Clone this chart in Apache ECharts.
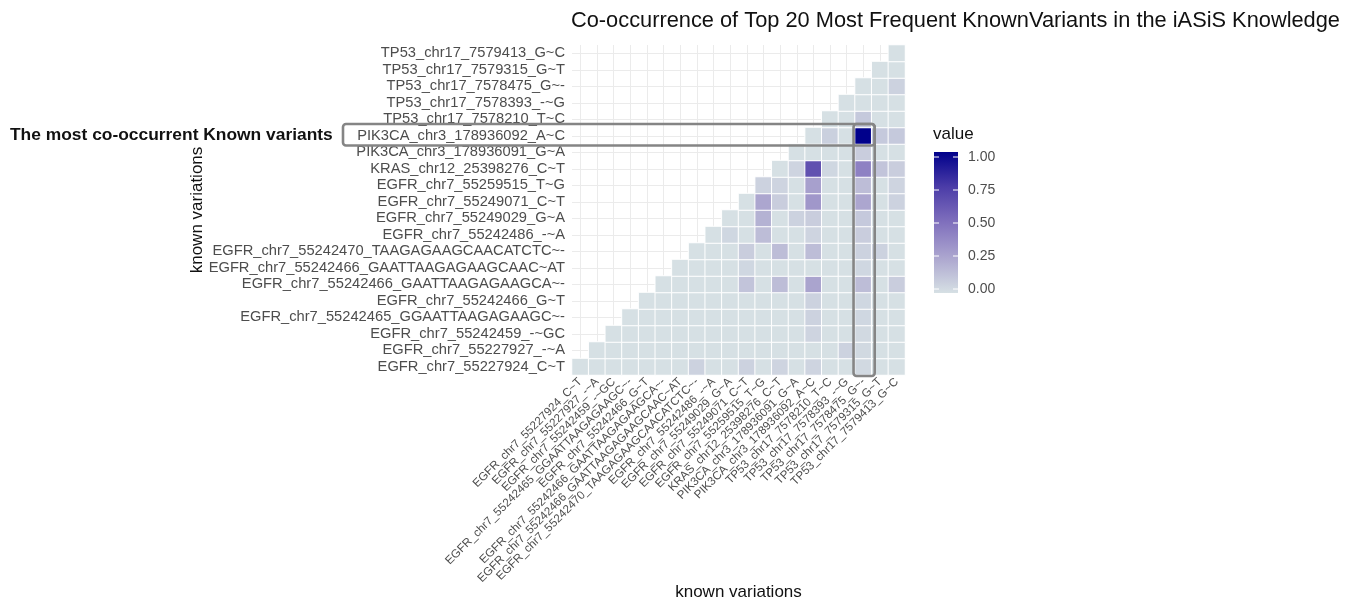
<!DOCTYPE html>
<html>
<head>
<meta charset="utf-8">
<script src="https://cdn.jsdelivr.net/npm/echarts@6/dist/echarts.min.js"></script>
<style>
  html, body { margin: 0; padding: 0; background: #ffffff; }
  #chart { width: 1345px; height: 604px; }
</style>
</head>
<body>
<div id="chart"></div>
<script>
// Variant identifiers, bottom-to-top on y and left-to-right on x
const variants = [
  'EGFR_chr7_55227924_C~T',
  'EGFR_chr7_55227927_-~A',
  'EGFR_chr7_55242459_-~GC',
  'EGFR_chr7_55242465_GGAATTAAGAGAAGC~-',
  'EGFR_chr7_55242466_G~T',
  'EGFR_chr7_55242466_GAATTAAGAGAAGCA~-',
  'EGFR_chr7_55242466_GAATTAAGAGAAGCAAC~AT',
  'EGFR_chr7_55242470_TAAGAGAAGCAACATCTC~-',
  'EGFR_chr7_55242486_-~A',
  'EGFR_chr7_55249029_G~A',
  'EGFR_chr7_55249071_C~T',
  'EGFR_chr7_55259515_T~G',
  'KRAS_chr12_25398276_C~T',
  'PIK3CA_chr3_178936091_G~A',
  'PIK3CA_chr3_178936092_A~C',
  'TP53_chr17_7578210_T~C',
  'TP53_chr17_7578393_-~G',
  'TP53_chr17_7578475_G~-',
  'TP53_chr17_7579315_G~T',
  'TP53_chr17_7579413_G~C'
];

// Row j holds the co-occurrence values for columns j..19 (upper triangle)
const coOccurrence = [
  [0, 0, 0, 0, 0, 0, 0, 0.06, 0, 0, 0.06, 0, 0.05, 0, 0.05, 0, 0, 0.03, 0, 0],
  [0, 0, 0, 0, 0, 0, 0, 0, 0, 0, 0, 0, 0, 0, 0, 0.06, 0.03, 0, 0],
  [0, 0, 0, 0, 0, 0, 0, 0, 0, 0, 0, 0, 0.05, 0, 0, 0.03, 0, 0],
  [0, 0, 0, 0, 0, 0, 0, 0, 0, 0, 0, 0.06, 0, 0, 0.04, 0, 0],
  [0, 0, 0, 0, 0, 0, 0, 0, 0, 0, 0.06, 0, 0, 0.04, 0, 0],
  [0, 0, 0, 0, 0, 0.12, 0, 0.15, 0, 0.26, 0, 0, 0.15, 0, 0.08],
  [0, 0, 0, 0, 0.04, 0, 0, 0, 0, 0, 0, 0.04, 0, 0],
  [0, 0, 0, 0.08, 0, 0.15, 0, 0.15, 0, 0, 0.06, 0.06, 0],
  [0, 0.04, 0, 0.15, 0, 0, 0.05, 0, 0, 0.08, 0, 0],
  [0, 0, 0.2, 0, 0.06, 0.08, 0, 0, 0.1, 0, 0],
  [0, 0.25, 0.08, 0, 0.32, 0, 0, 0.25, 0, 0.06],
  [0.06, 0.05, 0, 0.28, 0, 0, 0.15, 0, 0.05],
  [0, 0.05, 0.65, 0.04, 0, 0.42, 0.12, 0.08],
  [0, 0, 0, 0, 0.08, 0, 0],
  [0, 0.07, 0, 1, 0.1, 0.1],
  [0, 0, 0.1, 0, 0],
  [0, 0, 0, 0],
  [0, 0, 0.06],
  [0, 0],
  [0]
];

// Colour bar breaks
const legendTicks = [0, 0.25, 0.5, 0.75, 1];
const legendTickLabels = ['0.00', '0.25', '0.50', '0.75', '1.00'];

// Highlighted pair: row variant and column variant
const highlightRow = 'PIK3CA_chr3_178936092_A~C';
const highlightCol = 'TP53_chr17_7578475_G~-';

// Gradient stops (CIELAB-style ramp from light grey-blue to dark blue)
const rampColors = ['#d6e0e4', '#aca6cf', '#8070bd', '#4c3da8', '#00008b'];

const FONT = '"Liberation Sans", Arial, Helvetica, sans-serif';

const cells = [];
coOccurrence.forEach(function (row, j) {
  row.forEach(function (v, k) {
    cells.push([j + k, j, v]);
  });
});

const chart = echarts.init(document.getElementById('chart'), null, { renderer: 'canvas' });

const GRID = { left: 572, top: 45, width: 333, height: 330 };

const option = {
  backgroundColor: '#ffffff',
  animation: false,
  textStyle: { fontFamily: FONT },
  title: {
    text: 'Co-occurrence of Top 20 Most Frequent KnownVariants in the iASiS Knowledge',
    left: 571,
    top: 10,
    padding: 0,
    textStyle: { fontFamily: FONT, fontSize: 21.8, fontWeight: 'normal', color: '#111' }
  },
  grid: {
    left: GRID.left, top: GRID.top, width: GRID.width, height: GRID.height,
    containLabel: false, outerBoundsMode: 'none'
  },
  xAxis: {
    type: 'category',
    data: variants,
    name: 'known variations',
    nameLocation: 'middle',
    nameGap: 209,
    nameMoveOverlap: false,
    nameTextStyle: { fontFamily: FONT, fontSize: 17, color: '#111' },
    axisLine: { show: false },
    axisTick: { show: false },
    axisLabel: { rotate: 45, interval: 0, margin: 5, fontFamily: FONT, fontSize: 11.7, color: '#4d4d4d' },
    splitLine: { show: true, alignWithLabel: true, lineStyle: { color: '#ebebeb', width: 1 } }
  },
  yAxis: {
    type: 'category',
    data: variants,
    name: 'known variations',
    nameLocation: 'middle',
    nameGap: 366,
    nameMoveOverlap: false,
    nameTextStyle: { fontFamily: FONT, fontSize: 17, color: '#111' },
    axisLine: { show: false },
    axisTick: { show: false },
    axisLabel: { interval: 0, margin: 7, fontFamily: FONT, fontSize: 14.7, color: '#4d4d4d' },
    splitLine: { show: true, alignWithLabel: true, lineStyle: { color: '#ebebeb', width: 1 } }
  },
  visualMap: {
    show: false,
    type: 'continuous',
    min: 0,
    max: 1,
    dimension: 2,
    inRange: { color: rampColors }
  },
  series: [{
    type: 'heatmap',
    data: cells,
    itemStyle: { borderColor: '#ffffff', borderWidth: 1 },
    emphasis: { disabled: true },
    silent: true
  }]
};

chart.setOption(option);

// Legend colour bar and the highlight boxes, placed from the axis scales
function buildGraphics() {
  const els = [];
  const bar = { x: 934, y: 152, w: 24, h: 141 };
  const tickTop = 157, tickBottom = 289;

  els.push({
    type: 'text', left: 933, top: 126,
    style: { text: 'value', font: '17px ' + FONT, fill: '#111' }
  });
  els.push({
    type: 'rect',
    shape: { x: bar.x, y: bar.y, width: bar.w, height: bar.h },
    style: {
      fill: new echarts.graphic.LinearGradient(0, 1, 0, 0, rampColors.map(function (c, i) {
        return { offset: i / (rampColors.length - 1), color: c };
      }))
    },
    silent: true
  });
  legendTicks.forEach(function (v, i) {
    const y = tickBottom - v * (tickBottom - tickTop);
    els.push({ type: 'line', shape: { x1: bar.x, y1: y, x2: bar.x + 5, y2: y }, style: { stroke: '#ffffff', lineWidth: 1 }, silent: true });
    els.push({ type: 'line', shape: { x1: bar.x + bar.w - 5, y1: y, x2: bar.x + bar.w, y2: y }, style: { stroke: '#ffffff', lineWidth: 1 }, silent: true });
    els.push({
      type: 'text', x: 968, y: y,
      style: { text: legendTickLabels[i], font: '14px ' + FONT, fill: '#4d4d4d', textVerticalAlign: 'middle', verticalAlign: 'middle' },
      silent: true
    });
  });

  // Highlight boxes around the most co-occurrent pair
  const c = chart.convertToPixel({ gridIndex: 0 }, [highlightCol, highlightRow]);
  const c0 = chart.convertToPixel({ gridIndex: 0 }, [variants[0], variants[0]]);
  const c1 = chart.convertToPixel({ gridIndex: 0 }, [variants[1], variants[1]]);
  const halfW = Math.abs(c1[0] - c0[0]) / 2;
  const halfH = Math.abs(c1[1] - c0[1]) / 2;
  const boxStyle = { fill: 'none', stroke: '#858585', lineWidth: 2.6 };
  const boxTop = c[1] - halfH - 3.5;

  els.push({
    type: 'rect',
    shape: { x: 343, y: boxTop, width: (c[0] + halfW + 3) - 343, height: 2 * halfH + 5, r: 3 },
    style: boxStyle, silent: true, z: 10
  });
  els.push({
    type: 'rect',
    shape: { x: c[0] - halfW - 1.5, y: boxTop, width: 2 * halfW + 4.5, height: (c0[1] + halfH + 1) - boxTop, r: 3 },
    style: boxStyle, silent: true, z: 10
  });

  els.push({
    type: 'text', left: 10, top: c[1] - 9,
    style: { text: 'The most co-occurrent Known variants', font: 'bold 17.4px ' + FONT, fill: '#111' }
  });
  return els;
}

chart.setOption({ graphic: { elements: buildGraphics() } });
</script>
</body>
</html>
